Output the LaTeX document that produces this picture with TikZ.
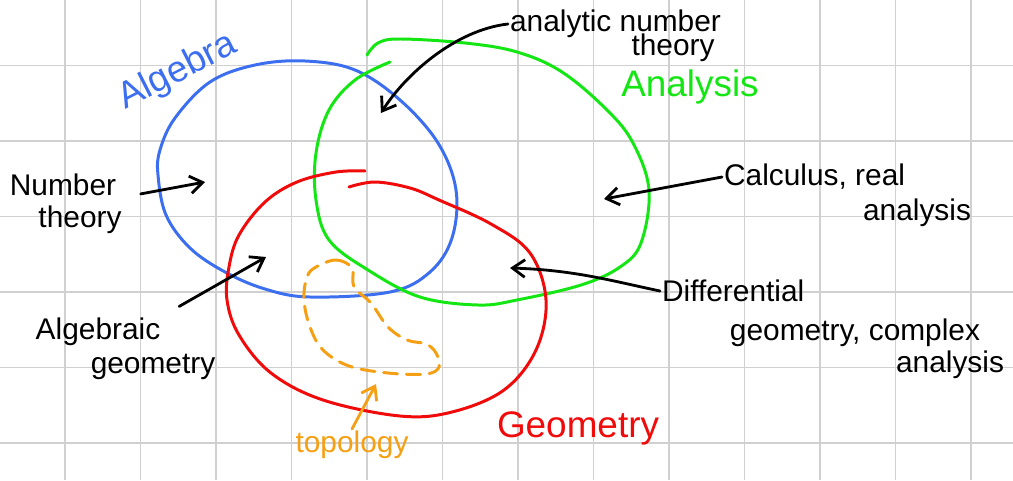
\documentclass[tikz,border=0pt]{standalone}
\usepackage{fontspec}
\setmainfont{Liberation Sans}
\usetikzlibrary{arrows.meta}
\definecolor{algblue}{RGB}{60,110,240}
\definecolor{anagreen}{RGB}{20,230,20}
\definecolor{geored}{RGB}{240,10,10}
\definecolor{topoorange}{RGB}{245,160,20}
\definecolor{gridgray}{RGB}{208,208,208}

\begin{document}
\begin{tikzpicture}[x=0.02cm, y=-0.02cm,
    lbl/.style={font=\fontsize{17}{19}\selectfont, inner sep=1pt},
    title/.style={font=\fontsize{21}{23}\selectfont, inner sep=1pt},
    arr/.style={-{Straight Barb[length=2.5mm, width=3.5mm]}, line width=1.6pt, line cap=round},
    loop/.style={line width=1.7pt, line cap=round}
  ]
  \useasboundingbox (0,0) rectangle (1013,480);
  % grid paper
  \foreach \x in {65,140.5,...,1000} \draw[gridgray, line width=1.1pt] (\x,0) -- (\x,480);
  \foreach \y in {65.5,141,...,480} \draw[gridgray, line width=1.1pt] (0,\y) -- (1013,\y);

  % the three loops
  \draw[loop, algblue] plot[smooth cycle, tension=0.6] coordinates {(158,175) (160,150) (175,118) (210,82) (255,65) (305,61) (355,70) (400,100) (438,143) (456,190) (452,238) (430,272) (390,292) (310,297) (265,289) (225,272) (190,248) (166,215)};
  \draw[loop, anagreen] plot[smooth, tension=0.6] coordinates {(367,55) (378,43) (400,39) (465,43) (517,52) (562,72) (607,110) (633,143) (649,190) (641,243) (620,267) (581,285) (517,300) (478,305) (420,297) (368,270) (329,240) (316,200) (316,153) (329,110) (355,80) (390,62)};
  \draw[loop, geored] plot[smooth, tension=0.6] coordinates {(365,171) (336,172) (297,182) (265,202) (239,235) (229,267) (227,300) (239,335) (271,373) (323,400) (400,416) (452,412) (504,390) (536,350) (546,300) (530,253) (491,224) (439,200) (410,188) (375,182) (349,187)};
  \draw[loop, topoorange, dash pattern=on 8pt off 5pt] plot[smooth cycle, tension=0.6] coordinates {(316,267) (336,260) (352,268) (354,287) (371,303) (388,327) (407,340) (426,344) (436,353) (439,367) (426,374) (388,373) (349,366) (323,350) (310,327) (304,300) (307,277)};

  % titles
  \node[title, algblue, rotate=27] (alg) at (178,72) {Algebra};
  \node[title, anagreen] (ana) at (690,87) {Analysis};
  \node[title, geored] (geo) at (578,428) {Geometry};
  \node[lbl, topoorange] (topo) at (352,445) {topology};

  % labels
  \node[lbl, anchor=west] (ant) at (508,24) {analytic number};
  \node[lbl] (antb) at (673,48) {theory};
  \node[lbl] (numa) at (63,185) {Number};
  \node[lbl] (numb) at (80,220) {theory};
  \node[lbl] (alga) at (98,332) {Algebraic};
  \node[lbl] (algb) at (153,367) {geometry};
  \node[lbl, anchor=west] (calca) at (722,177) {Calculus, real};
  \node[lbl] (calcb) at (917,213) {analysis};
  \node[lbl, anchor=west] (diffa) at (660,291) {Differential};
  \node[lbl] (diffb) at (855,333) {geometry, complex};
  \node[lbl] (diffc) at (950,365) {analysis};

  % arrow ends
  \coordinate (antend) at (381,113);
  \coordinate (numend) at (205,182);
  \coordinate (algend) at (266,257);
  \coordinate (calcend) at (604,199);
  \coordinate (diffend) at (510,268);
  \coordinate (topoend) at (376,384);

  \draw[arr] (ant.west) .. controls (455,30) and (405,75) .. (antend);
  \draw[arr, shorten <=13pt] (numa.south east) -- (numend);
  \draw[arr, shorten <=11pt] (alga.north east) -- (algend);
  \draw[arr] (calca.west) -- (calcend);
  \draw[arr] (diffa.west) .. controls (612,281) and (575,270) .. (diffend);
  \draw[arr, topoorange] (topo.north) -- (topoend);
\end{tikzpicture}
\end{document}
